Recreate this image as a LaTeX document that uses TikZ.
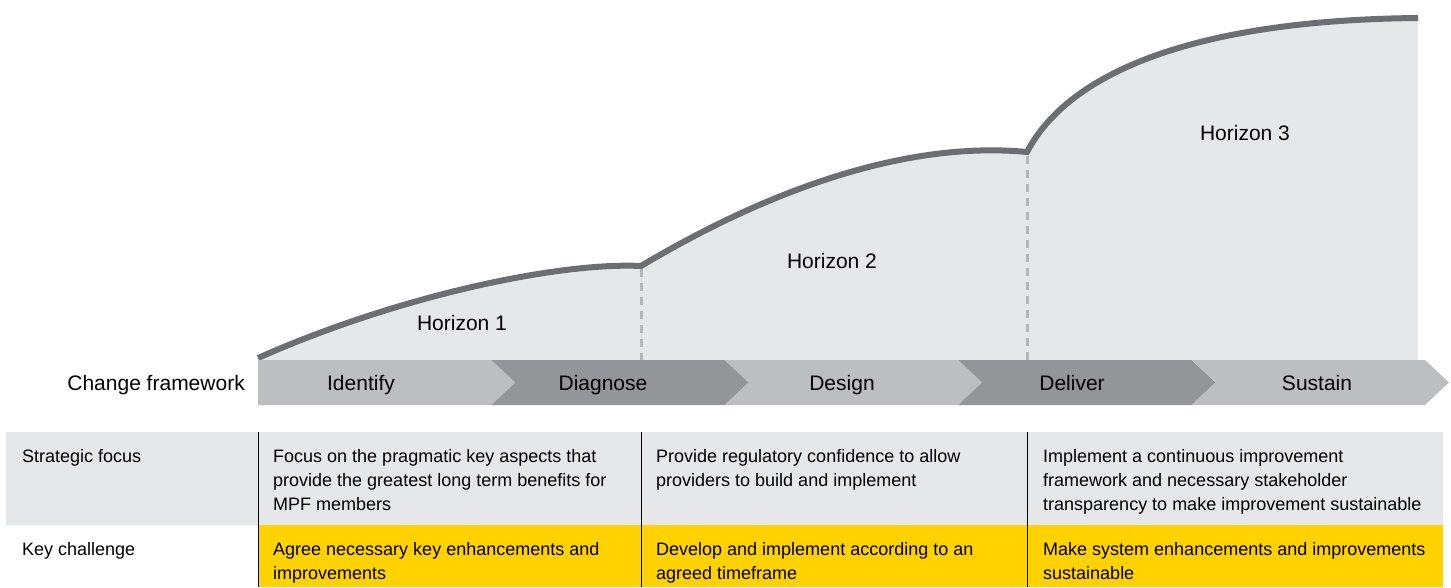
\documentclass[tikz,border=0pt]{standalone}
\usepackage{fontspec}
\setmainfont{Liberation Sans}
\usetikzlibrary{calc, positioning}

\definecolor{areagray}{HTML}{E6E7E8}
\definecolor{curvegray}{HTML}{6D6E71}
\definecolor{chevlight}{HTML}{BCBEC0}
\definecolor{chevdark}{HTML}{939598}
\definecolor{dashgray}{HTML}{B4B6B9}
\definecolor{keyyellow}{HTML}{FFD200}

\begin{document}
\begin{tikzpicture}[x=1pt, y=-1pt,
  bigtext/.style={font=\fontsize{21}{25}\selectfont, inner sep=0},
  celltext/.style={font=\fontsize{18}{24}\selectfont, inner sep=0, anchor=north west, align=left},
  curve/.style={line width=6pt, draw=curvegray},
  divider/.style={line width=1pt, draw=black},
  horizonline/.style={line width=3pt, draw=dashgray, dash pattern=on 8pt off 6pt}]
  \useasboundingbox (0,0) rectangle (1451,587);

  % Horizon area under the curves
  \fill[areagray] (258,360) -- (258,358)
    .. controls (400,295) and (560,262) .. (641,266)
    .. controls (760,195) and (900,140) .. (1027,152)
    .. controls (1070,70) and (1200,20) .. (1418,18)
    -- (1418,360) -- cycle;

  % Horizon boundaries
  \coordinate (h1top) at (641,269);
  \coordinate (h1bot) at (641,360);
  \coordinate (h2top) at (1027,156);
  \coordinate (h2bot) at (1027,360);
  \draw[horizonline] (h1top) -- (h1bot);
  \draw[horizonline] (h2top) -- (h2bot);

  % Growth curve
  \draw[curve] (258,358)
    .. controls (400,295) and (560,262) .. (641,266)
    .. controls (760,195) and (900,140) .. (1027,152)
    .. controls (1070,70) and (1200,20) .. (1418,18);

  \node[bigtext, anchor=base] (horizon1) at (462,330) {Horizon 1};
  \node[bigtext, anchor=base] (horizon2) at (832,268) {Horizon 2};
  \node[bigtext, anchor=base] (horizon3) at (1245,140) {Horizon 3};

  % Change framework chevrons
  \node[bigtext, anchor=base east] (framework) at (245,390) {Change framework};
  \foreach \i/\lbl/\lx/\col in {0/Identify/361/chevlight, 1/Diagnose/603/chevdark,
      2/Design/842/chevlight, 3/Deliver/1072/chevdark, 4/Sustain/1317/chevlight} {
    \pgfmathsetmacro{\xa}{258 + 233.4*\i}
    \pgfmathsetmacro{\xb}{\xa + 233.4}
    \pgfmathsetmacro{\notch}{\i > 0 ? 24 : 0}
    \fill[\col] (\xa,360) -- (\xb,360) -- (\xb+24,382.5) -- (\xb,405)
      -- (\xa,405) -- (\xa+\notch,382.5) -- cycle;
    \node[bigtext, anchor=base] (chev-\i) at (\lx,390) {\lbl};
  }

  % Table rows
  \fill[areagray] (6,432) rectangle (1443,525);
  \fill[keyyellow] (258,525) rectangle (1443,587);

  \coordinate (div1top) at (258,432);
  \coordinate (div1bot) at (258,587);
  \coordinate (div2top) at (641,432);
  \coordinate (div2bot) at (641,587);
  \coordinate (div3top) at (1027,432);
  \coordinate (div3bot) at (1027,587);
  \draw[divider] (div1top) -- (div1bot);
  \draw[divider] (div2top) -- (div2bot);
  \draw[divider] (div3top) -- (div3bot);

  \node[celltext] (focus) at (22,449) {Strategic focus};
  \node[celltext] (focus1) at (273,449) {Focus on the pragmatic key aspects that\\provide the greatest long term benefits for\\MPF members};
  \node[celltext] (focus2) at (656,449) {Provide regulatory confidence to allow\\providers to build and implement};
  \node[celltext] (focus3) at (1043,449) {Implement a continuous improvement\\framework and necessary stakeholder\\transparency to make improvement sustainable};

  \node[celltext] (challenge) at (22,542) {Key challenge};
  \node[celltext] (challenge1) at (273,542) {Agree necessary key enhancements and\\improvements};
  \node[celltext] (challenge2) at (656,542) {Develop and implement according to an\\agreed timeframe};
  \node[celltext] (challenge3) at (1043,542) {Make system enhancements and improvements\\sustainable};
\end{tikzpicture}
\end{document}
